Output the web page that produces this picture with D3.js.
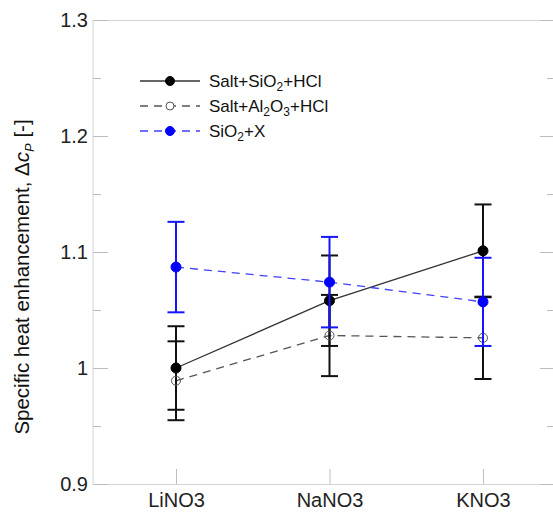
<!DOCTYPE html>
<html><head><meta charset="utf-8">
<script src="https://cdn.jsdelivr.net/npm/d3@7"></script>
<style>body{margin:0;background:#fff}svg{display:block;font-family:Arial,"Liberation Sans",sans-serif}</style>
</head><body>
<script>
const categories = ["LiNO3", "NaNO3", "KNO3"];
const seriesNames = ["Salt+SiO2+HCl", "Salt+Al2O3+HCl", "SiO2+X"];
const saltSiO2 = [1.000, 1.058, 1.101];
const saltSiO2Err = [0.036, 0.039, 0.040];
const saltAl2O3 = [0.989, 1.028, 1.026];
const saltAl2O3Err = [0.034, 0.035, 0.0355];
const sio2X = [1.087, 1.074, 1.057];
const sio2XErr = [0.039, 0.039, 0.038];
const yTicks = [0.9, 1.0, 1.1, 1.2, 1.3];
const yTickLabels = ["0.9", "1", "1.1", "1.2", "1.3"];
const yMinorTicks = [0.95, 1.05, 1.15, 1.25];

const W = 553, H = 512;
const L = 93, R = 555, T = 20, B = 484;
const svg = d3.select("body").append("svg").attr("width", W).attr("height", H);

const y = d3.scaleLinear().domain([0.9, 1.3]).range([B, T]);
const x = d3.scalePoint().domain(categories).range([176, 483]);

const frame = "#d4d4d4", tickC = "#bdbdbd";
svg.append("line").attr("x1", L).attr("x2", L).attr("y1", T).attr("y2", B).attr("stroke", frame);
svg.append("line").attr("x1", L).attr("x2", R).attr("y1", T + 0.5).attr("y2", T + 0.5).attr("stroke", frame);
svg.append("line").attr("x1", L).attr("x2", R).attr("y1", B + 0.5).attr("y2", B + 0.5).attr("stroke", frame);
svg.append("line").attr("x1", R).attr("x2", R).attr("y1", T).attr("y2", B).attr("stroke", frame);

const yAxis = d3.axisLeft(y).tickValues(yTicks).tickSize(-15).tickPadding(5)
  .tickFormat((d, i) => yTickLabels[i]);
const gy = svg.append("g").attr("transform", `translate(${L},0)`).call(yAxis);
gy.select(".domain").remove();
gy.selectAll(".tick line").attr("stroke", tickC);
gy.selectAll(".tick text").attr("font-size", 20).attr("fill", "#222").attr("font-family", "Arial, 'Liberation Sans', sans-serif");
const gyMinor = svg.append("g").attr("transform", `translate(${L},0)`)
  .call(d3.axisLeft(y).tickValues(yMinorTicks).tickSize(-8).tickFormat(""));
gyMinor.select(".domain").remove();
gyMinor.selectAll(".tick line").attr("stroke", tickC);
const gr = svg.append("g").attr("transform", `translate(${R},0)`)
  .call(d3.axisRight(y).tickValues(yTicks).tickSize(-15).tickFormat(""));
gr.select(".domain").remove();
gr.selectAll(".tick line").attr("stroke", tickC);
const grm = svg.append("g").attr("transform", `translate(${R},0)`)
  .call(d3.axisRight(y).tickValues(yMinorTicks).tickSize(-8).tickFormat(""));
grm.select(".domain").remove();
grm.selectAll(".tick line").attr("stroke", tickC);

const gx = svg.append("g").attr("transform", `translate(0,${B})`)
  .call(d3.axisBottom(x).tickSize(-15).tickPadding(9));
gx.select(".domain").remove();
gx.selectAll(".tick line").attr("stroke", tickC);
gx.selectAll(".tick text").attr("font-size", 20).attr("fill", "#222").attr("font-family", "Arial, 'Liberation Sans', sans-serif");

const yl = svg.append("text").attr("transform", `translate(29,${277}) rotate(-90)`)
  .attr("text-anchor", "middle").attr("font-size", 20.5).attr("fill", "#111");
yl.append("tspan").text("Specific heat enhancement, \u0394");
yl.append("tspan").attr("font-style", "italic").text("c");
yl.append("tspan").attr("font-style", "italic").attr("font-size", 13).attr("dy", 5).text("P");
yl.append("tspan").attr("dy", -5).text(" [-]");

const series = [
  {vals: saltSiO2, err: saltSiO2Err, line: "#333", dash: null, ebar: "#111", mfill: "#000", mstroke: "#000", r: 5},
  {vals: saltAl2O3, err: saltAl2O3Err, line: "#555", dash: "8,6", ebar: "#111", mfill: "none", mstroke: "#555", r: 4.5},
  {vals: sio2X, err: sio2XErr, line: "#4040ff", dash: "8,6", ebar: "#1515ff", mfill: "#0000ff", mstroke: "#0000ff", r: 5}
];
const lineGen = d3.line().x((d, i) => x(categories[i])).y(d => y(d));

series.forEach(s => {
  svg.append("path").attr("d", lineGen(s.vals)).attr("fill", "none")
    .attr("stroke", s.line).attr("stroke-width", 1.3).attr("stroke-dasharray", s.dash);
});

function drawErr(s) {
  const g = svg.append("g").attr("stroke", s.ebar).attr("stroke-width", 2);
  s.vals.forEach((v, i) => {
    const cx = x(categories[i]);
    g.append("line").attr("x1", cx).attr("x2", cx).attr("y1", y(v + s.err[i])).attr("y2", y(v - s.err[i]));
    [v + s.err[i], v - s.err[i]].forEach(e => {
      g.append("line").attr("x1", cx - 8.5).attr("x2", cx + 8.5).attr("y1", y(e)).attr("y2", y(e));
    });
  });
}
function drawMarkers(s) {
  svg.append("g").selectAll("circle").data(s.vals).join("circle")
    .attr("cx", (d, i) => x(categories[i])).attr("cy", d => y(d)).attr("r", s.r)
    .attr("fill", s.mfill).attr("stroke", s.mstroke).attr("stroke-width", 1);
}
drawErr(series[0]); drawErr(series[1]);
drawMarkers(series[0]); drawMarkers(series[1]);
drawErr(series[2]); drawMarkers(series[2]);

const legRows = [81, 106, 131];
const legLabels = [
  [["Salt+SiO", 0], ["2", 1], ["+HCl", 0]],
  [["Salt+Al", 0], ["2", 1], ["O", 0], ["3", 1], ["+HCl", 0]],
  [["SiO", 0], ["2", 1], ["+X", 0]]
];
series.forEach((s, k) => {
  const ly = legRows[k];
  svg.append("line").attr("x1", 140).attr("x2", 200).attr("y1", ly).attr("y2", ly)
    .attr("stroke", s.line).attr("stroke-width", 1.3).attr("stroke-dasharray", s.dash ? "8,6" : null);
  svg.append("circle").attr("cx", 170).attr("cy", ly).attr("r", s.r === 5 ? 4.5 : 4)
    .attr("fill", s.mfill === "none" ? "#fff" : s.mfill).attr("stroke", s.mstroke);
  const t = svg.append("text").attr("x", 209).attr("y", ly + 6).attr("font-size", 17).attr("fill", "#111");
  let sub = false;
  legLabels[k].forEach(([str, isSub]) => {
    const ts = t.append("tspan").text(str);
    if (isSub && !sub) { ts.attr("font-size", 12).attr("dy", 4); sub = true; }
    else if (!isSub && sub) { ts.attr("dy", -4); sub = false; }
  });
});
</script>
</body></html>
